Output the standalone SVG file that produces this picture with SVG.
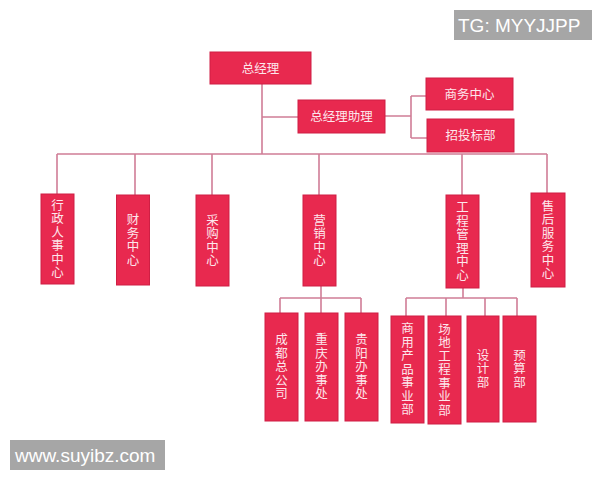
<svg xmlns="http://www.w3.org/2000/svg" width="600" height="480" viewBox="0 0 600 480">
<style>
.box{fill:#e8294f;stroke:#cf1f44;stroke-width:1}
.t{fill:#fde6ec;font-family:"Noto Sans CJK SC","Noto Sans",sans-serif;font-size:12.5px;text-anchor:middle}
.v{writing-mode:vertical-rl;letter-spacing:1px}
.ln{fill:none;stroke:#d07d97;stroke-width:1.6}
.wm{fill:#a6a6a6}
.wt{fill:#ffffff;font-family:"Liberation Sans",Arial,sans-serif;font-size:19px}
</style>
<rect width="600" height="480" fill="#ffffff"/>
<g id="connectors">
<path class="ln" d="M262,84 V154 M262,117 H298 M385,116 H411 M411,96 V138 M411,96 H426 M411,138 H427"/>
<path class="ln" d="M57,154 H547 M57,154 V194 M135,154 V195 M212,154 V195 M319,154 V195 M462,154 V195 M547,154 V193"/>
<path class="ln" d="M321,286 V298 M280,298 H361 M280,298 V313 M321,298 V313 M361,298 V313"/>
<path class="ln" d="M463,288 V298 M406,298 H517 M406,298 V316 M446,298 V316 M485,298 V316 M517,298 V316"/>
</g>
<g id="n-zjl"><rect class="box" x="210" y="52" width="101" height="32"/><text class="t" x="260.5" y="72.5">总经理</text></g>
<g id="n-zjlzl"><rect class="box" x="298" y="100" width="87" height="33"/><text class="t" x="341.5" y="121">总经理助理</text></g>
<g id="n-swzx"><rect class="box" x="426" y="78" width="87" height="32"/><text class="t" x="469.5" y="98.5">商务中心</text></g>
<g id="n-ztbb"><rect class="box" x="427" y="119" width="87" height="33"/><text class="t" x="470.5" y="140">招投标部</text></g>
<g id="n-xzrs"><rect class="box" x="41" y="194" width="33" height="90"/><text class="t v" x="57.5" y="239">行政人事中心</text></g>
<g id="n-cwzx"><rect class="box" x="116.5" y="195" width="33" height="90"/><text class="t v" x="133" y="240">财务中心</text></g>
<g id="n-cgzx"><rect class="box" x="196" y="195" width="33" height="91"/><text class="t v" x="212.5" y="240.5">采购中心</text></g>
<g id="n-yxzx"><rect class="box" x="303" y="195" width="33" height="91"/><text class="t v" x="319.5" y="240.5">营销中心</text></g>
<g id="n-gcgl"><rect class="box" x="446" y="195" width="33" height="93"/><text class="t v" x="462.5" y="241.5">工程管理中心</text></g>
<g id="n-shfw"><rect class="box" x="531" y="193" width="34" height="94"/><text class="t v" x="548" y="240">售后服务中心</text></g>
<g id="n-cdzgs"><rect class="box" x="265" y="313" width="33" height="108"/><text class="t v" x="281.5" y="367">成都总公司</text></g>
<g id="n-cqbsc"><rect class="box" x="305" y="313" width="33" height="108"/><text class="t v" x="321.5" y="367">重庆办事处</text></g>
<g id="n-gybsc"><rect class="box" x="345" y="313" width="33" height="108"/><text class="t v" x="361.5" y="367">贵阳办事处</text></g>
<g id="n-sycp"><rect class="box" x="391" y="316" width="33" height="107"/><text class="t v" x="407.5" y="369.5">商用产品事业部</text></g>
<g id="n-cdgc"><rect class="box" x="428" y="316" width="33" height="108"/><text class="t v" x="444.5" y="370">场地工程事业部</text></g>
<g id="n-sjb"><rect class="box" x="467" y="316" width="32" height="106"/><text class="t v" x="483" y="369">设计部</text></g>
<g id="n-ysb"><rect class="box" x="503" y="316" width="33" height="106"/><text class="t v" x="519.5" y="369">预算部</text></g>
<g id="wm-tg"><rect class="wm" x="454" y="10" width="138" height="30"/><text class="wt" x="458" y="32">TG: MYYJJPP</text></g>
<g id="wm-www"><rect class="wm" x="10" y="440" width="155" height="30"/><text class="wt" x="15" y="462">www.suyibz.com</text></g>
</svg>
